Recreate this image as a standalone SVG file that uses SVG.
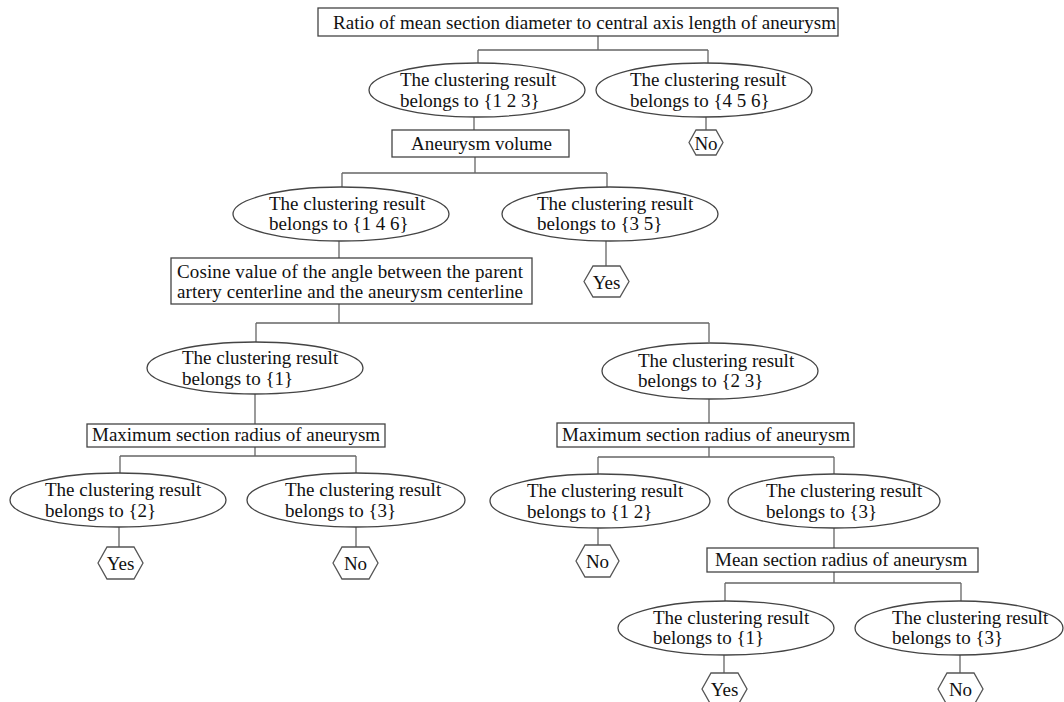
<svg xmlns="http://www.w3.org/2000/svg" width="1064" height="702" viewBox="0 0 1064 702">
<style>
.box{fill:#fff;stroke:#444;stroke-width:1.3}
.ell{fill:#fff;stroke:#444;stroke-width:1.3}
.hex{fill:#fff;stroke:#555;stroke-width:1.3}
.conn{fill:none;stroke:#666;stroke-width:1.3}
text{font-family:"Liberation Serif","Times New Roman",serif;font-size:19px;fill:#111}
.c{text-anchor:middle}
</style>
<rect width="1064" height="702" fill="#fff"/>
<g id="connectors">
<path class="conn" d="M598,36V50M478,50H708M478,50V64M708,50V63"/>
<path class="conn" d="M474,117V130M706,117V130"/>
<path class="conn" d="M475,157V173M342,173H607M342,173V187M607,173V187"/>
<path class="conn" d="M339,241V258M606,241V266"/>
<path class="conn" d="M339,304V323M256,323H709M256,323V342M709,323V342"/>
<path class="conn" d="M255,394V424M709,399V423"/>
<path class="conn" d="M255,447V456M120,456H356M120,456V473M356,456V473"/>
<path class="conn" d="M709,447V457M598,457H834M598,457V474M834,457V474"/>
<path class="conn" d="M119,527V547M356,527V547M598,528V545M834,528V548"/>
<path class="conn" d="M834,572V583M725,583H961M725,583V602M961,583V602"/>
<path class="conn" d="M724,655V673M960,655V673"/>
</g>
<g id="n-ratio"><rect class="box" x="318" y="8" width="520" height="28"/><text x="333" y="29" textLength="503">Ratio of mean section diameter to central axis length of aneurysm</text></g>
<g id="n-c123"><ellipse class="ell" cx="477" cy="90" rx="108" ry="27"/><text x="400" y="86">The clustering result</text><text x="400" y="107">belongs to {1 2 3}</text></g>
<g id="n-c456"><ellipse class="ell" cx="704" cy="90" rx="108" ry="27"/><text x="630" y="86">The clustering result</text><text x="630" y="107">belongs to {4 5 6}</text></g>
<g id="n-no1"><polygon class="hex" points="689,142.5 696,130 716,130 723,142.5 716,155 696,155"/><text class="c" x="706" y="150">No</text></g>
<g id="n-volume"><rect class="box" x="392" y="130" width="177" height="27"/><text x="411" y="150">Aneurysm volume</text></g>
<g id="n-c146"><ellipse class="ell" cx="341" cy="214" rx="108" ry="27"/><text x="269" y="210">The clustering result</text><text x="269" y="230">belongs to {1 4 6}</text></g>
<g id="n-c35"><ellipse class="ell" cx="610" cy="214" rx="108" ry="27"/><text x="537" y="210">The clustering result</text><text x="537" y="230">belongs to {3 5}</text></g>
<g id="n-yes1"><polygon class="hex" points="584,281.5 593,266 620,266 629,281.5 620,297 593,297"/><text class="c" x="606.5" y="289">Yes</text></g>
<g id="n-cosine"><rect class="box" x="171" y="258" width="361" height="46"/><text x="177" y="278" textLength="346">Cosine value of the angle between the parent</text><text x="177" y="298" textLength="346">artery centerline and the aneurysm centerline</text></g>
<g id="n-c1a"><ellipse class="ell" cx="255" cy="368" rx="108" ry="26"/><text x="182" y="364">The clustering result</text><text x="182" y="385">belongs to {1}</text></g>
<g id="n-c23"><ellipse class="ell" cx="710" cy="371" rx="108" ry="28"/><text x="638" y="367">The clustering result</text><text x="638" y="387">belongs to {2 3}</text></g>
<g id="n-max1"><rect class="box" x="87" y="424" width="298" height="23"/><text x="92" y="441">Maximum section radius of aneurysm</text></g>
<g id="n-max2"><rect class="box" x="557" y="423" width="297" height="24"/><text x="562" y="441">Maximum section radius of aneurysm</text></g>
<g id="n-c2"><ellipse class="ell" cx="118" cy="500" rx="108" ry="27"/><text x="45" y="496">The clustering result</text><text x="45" y="517">belongs to {2}</text></g>
<g id="n-c3a"><ellipse class="ell" cx="356" cy="500" rx="109" ry="27"/><text x="285" y="496">The clustering result</text><text x="285" y="517">belongs to {3}</text></g>
<g id="n-c12"><ellipse class="ell" cx="600" cy="501" rx="110" ry="27"/><text x="527" y="497">The clustering result</text><text x="527" y="518">belongs to {1 2}</text></g>
<g id="n-c3b"><ellipse class="ell" cx="834" cy="501" rx="106" ry="27"/><text x="766" y="497">The clustering result</text><text x="766" y="518">belongs to {3}</text></g>
<g id="n-yes2"><polygon class="hex" points="98,563 107,547 134,547 143,563 134,579 107,579"/><text class="c" x="120.5" y="570">Yes</text></g>
<g id="n-no2"><polygon class="hex" points="333,563 342,547 369,547 378,563 369,579 342,579"/><text class="c" x="355.5" y="570">No</text></g>
<g id="n-no3"><polygon class="hex" points="576,561 585,545 610,545 619,561 610,577 585,577"/><text class="c" x="597.5" y="568">No</text></g>
<g id="n-mean"><rect class="box" x="707" y="548" width="271" height="24"/><text x="715" y="566">Mean section radius of aneurysm</text></g>
<g id="n-c1b"><ellipse class="ell" cx="726" cy="628" rx="108" ry="27"/><text x="653" y="624">The clustering result</text><text x="653" y="644">belongs to {1}</text></g>
<g id="n-c3c"><ellipse class="ell" cx="959" cy="628" rx="104" ry="27"/><text x="892" y="624">The clustering result</text><text x="892" y="644">belongs to {3}</text></g>
<g id="n-yes3"><polygon class="hex" points="702,689 711,673 738,673 747,689 738,705 711,705"/><text class="c" x="724.5" y="696">Yes</text></g>
<g id="n-no4"><polygon class="hex" points="938,689 947,673 974,673 983,689 974,705 947,705"/><text class="c" x="960.5" y="696">No</text></g>
</svg>
